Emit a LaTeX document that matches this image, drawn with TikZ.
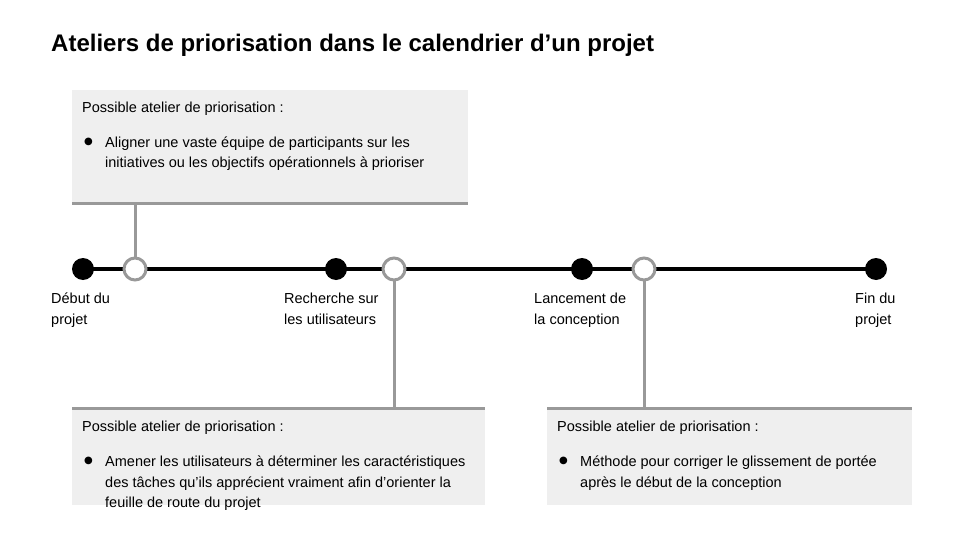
\documentclass[tikz,border=0pt]{standalone}
\usepackage{fontspec}
\setmainfont{Liberation Sans}
\newfontfamily\symfont{DejaVu Sans}
\definecolor{boxfill}{HTML}{EFEFEF}
\definecolor{linegray}{HTML}{999999}
\pgfdeclarelayer{background}
\pgfsetlayers{background,main}
\newcommand\mylines[1]{\begin{tabular}[t]{@{}l@{}}#1\end{tabular}}
\begin{document}
\begin{tikzpicture}[x=1pt,y=-1pt,
  boxbg/.style={fill=boxfill, draw=none, inner sep=0pt, anchor=north west},
  border/.style={draw=linegray, line width=3.5pt},
  stem/.style={draw=linegray, line width=3pt},
  txt/.style={font=\fontsize{14.5}{20.5}\selectfont, inner sep=0pt, anchor=base west},
  bul/.style={font=\symfont\fontsize{10}{10}\selectfont, inner sep=0pt, anchor=center},
  milestone/.style={circle, fill=black, minimum size=22pt, inner sep=0pt},
  workshop/.style={circle, draw=linegray, line width=3pt, fill=white, minimum size=22pt, inner sep=0pt},
  timeline/.style={draw=black, line width=4pt}]
\useasboundingbox (0,0) rectangle (960,540);

% title
\node[font=\bfseries\fontsize{24}{28}\selectfont, inner sep=0pt, anchor=base west] (title) at (51,52)
  {Ateliers de priorisation dans le calendrier d’un projet};

% boxes
\node[boxbg, minimum width=396pt, minimum height=113pt] (b1) at (72,90) {};
\node[boxbg, minimum width=413pt, minimum height=96.5pt] (b2) at (72,408.5) {};
\node[boxbg, minimum width=365pt, minimum height=96.5pt] (b3) at (547,408.5) {};
\draw[border] (b1.south west) -- (b1.south east);
\draw[border] (b2.north west) -- (b2.north east);
\draw[border] (b3.north west) -- (b3.north east);

% timeline nodes
\node[milestone] (m1) at (83,269) {};
\node[workshop]  (w1) at (135,269) {};
\node[milestone] (m2) at (336,269) {};
\node[workshop]  (w2) at (394,269) {};
\node[milestone] (m3) at (582,269) {};
\node[workshop]  (w3) at (644,269) {};
\node[milestone] (m4) at (876,269) {};

\begin{pgfonlayer}{background}
  \draw[timeline] (m1.center) -- (m4.center);
  \draw[stem] (b1.south -| w1) -- (w1.center);
  \draw[stem] (w2.center) -- (b2.north -| w2);
  \draw[stem] (w3.center) -- (b3.north -| w3);
\end{pgfonlayer}

% milestone labels
\node[txt] (l1) at (51,303.5) {\mylines{Début du\\projet}};
\node[txt] (l2) at (284,303.5) {\mylines{Recherche sur\\les utilisateurs}};
\node[txt] (l3) at (534,303.5) {\mylines{Lancement de\\la conception}};
\node[txt] (l4) at (855,303.5) {\mylines{Fin du\\projet}};

% box texts
\node[txt] (h1) at (82,112.5) {Possible atelier de priorisation :};
\node[bul] (p1) at (88.5,142) {●};
\node[txt] (t1) at (105,147.5) {\mylines{Aligner une vaste équipe de participants sur les\\initiatives ou les objectifs opérationnels à prioriser}};

\node[txt] (h2) at (82,431.5) {Possible atelier de priorisation :};
\node[bul] (p2) at (88.5,461) {●};
\node[txt] (t2) at (105,466.5) {\mylines{Amener les utilisateurs à déterminer les caractéristiques\\des tâches qu’ils apprécient vraiment afin d’orienter la\\feuille de route du projet}};

\node[txt] (h3) at (557,431.5) {Possible atelier de priorisation :};
\node[bul] (p3) at (563.5,461) {●};
\node[txt] (t3) at (580,466.5) {\mylines{Méthode pour corriger le glissement de portée\\après le début de la conception}};
\end{tikzpicture}
\end{document}
